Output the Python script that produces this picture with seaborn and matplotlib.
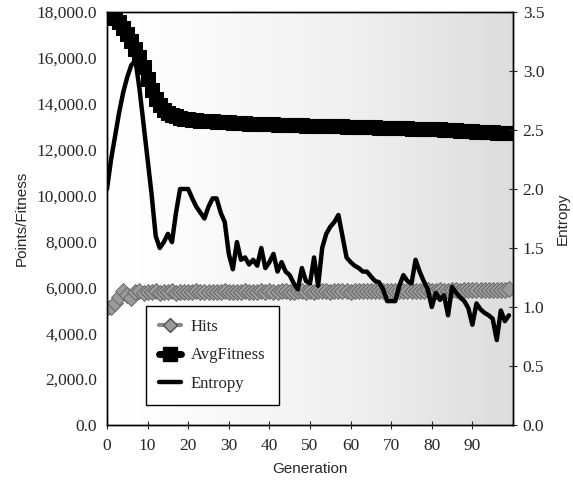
import numpy as np
import pandas as pd
import matplotlib
matplotlib.use("Agg")
import matplotlib.pyplot as plt
from matplotlib.ticker import StrMethodFormatter, MultipleLocator
from matplotlib.lines import Line2D
import seaborn as sns

# data
generation = list(range(100))

hits = [5100, 5150, 5300, 5600, 5850, 5650, 5550, 5800, 5850, 5750,
        5800, 5780, 5820, 5760, 5800, 5790, 5830, 5770, 5800, 5810,
        5780, 5800, 5820, 5790, 5800, 5780, 5810, 5800, 5790, 5820,
        5800, 5780, 5810, 5800, 5820, 5790, 5800, 5810, 5830, 5800,
        5820, 5810, 5800, 5830, 5820, 5800, 5810, 5830, 5820, 5810,
        5830, 5800, 5820, 5840, 5820, 5810, 5830, 5820, 5840, 5830,
        5810, 5830, 5840, 5820, 5830, 5850, 5830, 5840, 5820, 5840,
        5850, 5830, 5840, 5860, 5840, 5850, 5860, 5840, 5850, 5870,
        5850, 5860, 5870, 5850, 5860, 5870, 5880, 5860, 5870, 5880,
        5870, 5880, 5890, 5870, 5880, 5890, 5900, 5890, 5900, 5920]

avg_fitness = [18000, 17900, 17750, 17550, 17300, 17050, 16750, 16400, 16050, 15600,
               15100, 14600, 14200, 13950, 13750, 13600, 13500, 13450, 13400, 13350,
               13330, 13300, 13290, 13270, 13250, 13240, 13230, 13220, 13210, 13200,
               13190, 13180, 13170, 13160, 13150, 13140, 13140, 13130, 13120, 13110,
               13100, 13100, 13090, 13080, 13080, 13070, 13070, 13060, 13060, 13050,
               13050, 13040, 13040, 13030, 13030, 13020, 13020, 13010, 13010, 13000,
               13000, 12990, 12990, 12980, 12980, 12970, 12970, 12960, 12960, 12950,
               12950, 12940, 12940, 12930, 12930, 12920, 12920, 12910, 12910, 12900,
               12900, 12890, 12880, 12870, 12860, 12850, 12840, 12830, 12820, 12810,
               12800, 12790, 12780, 12770, 12760, 12750, 12740, 12730, 12720, 12710]

entropy = [2.00, 2.25, 2.45, 2.65, 2.82, 2.95, 3.05, 3.09, 2.85, 2.55,
           2.25, 1.95, 1.60, 1.50, 1.55, 1.62, 1.55, 1.80, 2.00, 2.00,
           2.00, 1.92, 1.85, 1.80, 1.75, 1.85, 1.92, 1.92, 1.80, 1.72,
           1.45, 1.32, 1.55, 1.40, 1.42, 1.36, 1.40, 1.35, 1.50, 1.33,
           1.38, 1.45, 1.30, 1.38, 1.30, 1.27, 1.20, 1.15, 1.33, 1.22,
           1.20, 1.42, 1.18, 1.50, 1.62, 1.68, 1.72, 1.78, 1.60, 1.42,
           1.38, 1.35, 1.33, 1.30, 1.30, 1.26, 1.22, 1.21, 1.15, 1.05,
           1.05, 1.05, 1.18, 1.27, 1.22, 1.20, 1.40, 1.30, 1.22, 1.15,
           1.00, 1.12, 1.06, 1.10, 0.93, 1.17, 1.12, 1.08, 1.05, 0.99,
           0.85, 1.03, 0.98, 0.95, 0.93, 0.90, 0.72, 0.97, 0.88, 0.93]

df = pd.DataFrame({"Generation": generation, "Hits": hits,
                   "AvgFitness": avg_fitness, "Entropy": entropy})

sns.set_style("ticks")
serif = "Liberation Serif"
sans = "Liberation Sans"

fig = plt.figure(figsize=(5.73, 4.84), dpi=100)
ax = fig.add_axes([107 / 573, 1 - 425 / 484, 406 / 573, 413 / 484])

# background: white on the left fading to grey on the right
grad = np.linspace(0, 1, 256) ** 1.2
ax.imshow(grad[np.newaxis, :], aspect="auto", cmap="Greys", vmin=0, vmax=4.3,
          extent=[0, 1, 0, 1], transform=ax.transAxes, zorder=0)

sns.lineplot(data=df, x="Generation", y="AvgFitness", ax=ax, color="black",
             marker="s", markersize=10, markeredgecolor="black", linewidth=7, zorder=3)
sns.lineplot(data=df, x="Generation", y="Hits", ax=ax, color="#8a8a8a",
             marker="D", markersize=8, markerfacecolor="#9a9a9a",
             markeredgecolor="#606060", markeredgewidth=0.6, linewidth=5, zorder=2)

ax.set_xlim(0, 100)
ax.set_ylim(0, 18000)
ax.set_xticks(range(0, 100, 10))
ax.yaxis.set_major_locator(MultipleLocator(2000))
ax.yaxis.set_major_formatter(StrMethodFormatter("{x:,.1f}"))
ax.set_xlabel("Generation", family=sans, fontsize=11, labelpad=6)
ax.set_ylabel("Points/Fitness", family=sans, fontsize=11, labelpad=6)
ax.tick_params(axis="y", length=0, labelsize=12.5, pad=7)
ax.tick_params(axis="x", direction="inout", length=6, labelsize=12.5, pad=6)
for lab in ax.get_xticklabels() + ax.get_yticklabels():
    lab.set_family(serif)

ax2 = ax.twinx()
sns.lineplot(data=df, x="Generation", y="Entropy", ax=ax2, color="black",
             linewidth=3.2, zorder=4)
ax2.set_ylim(0, 3.5)
ax2.yaxis.set_major_locator(MultipleLocator(0.5))
ax2.yaxis.set_major_formatter(StrMethodFormatter("{x:.1f}"))
ax2.set_ylabel("Entropy", family=sans, fontsize=11, labelpad=8)
ax2.tick_params(axis="y", direction="inout", length=6, labelsize=12.5, pad=4)
for lab in ax2.get_yticklabels():
    lab.set_family(serif)

for a in (ax, ax2):
    for s in a.spines.values():
        s.set_color("black")
        s.set_linewidth(1.0)

handles = [
    Line2D([], [], color="#8a8a8a", marker="D", markersize=7,
           markerfacecolor="#9a9a9a", markeredgecolor="#505050", linewidth=3),
    Line2D([], [], color="black", marker="s", markersize=10, linewidth=5),
    Line2D([], [], color="black", linewidth=3.2),
]
leg = ax2.legend(handles, ["Hits", "AvgFitness", "Entropy"], loc="lower left",
                 bbox_to_anchor=(0.096, 0.048), borderaxespad=0, frameon=True,
                 fancybox=False, edgecolor="black", framealpha=1,
                 handlelength=1.3, handletextpad=0.6,
                 prop={"family": serif, "size": 12}, borderpad=0.8,
                 labelspacing=0.75)
leg.get_frame().set_linewidth(1.0)

fig.savefig("out.png", dpi=100)
